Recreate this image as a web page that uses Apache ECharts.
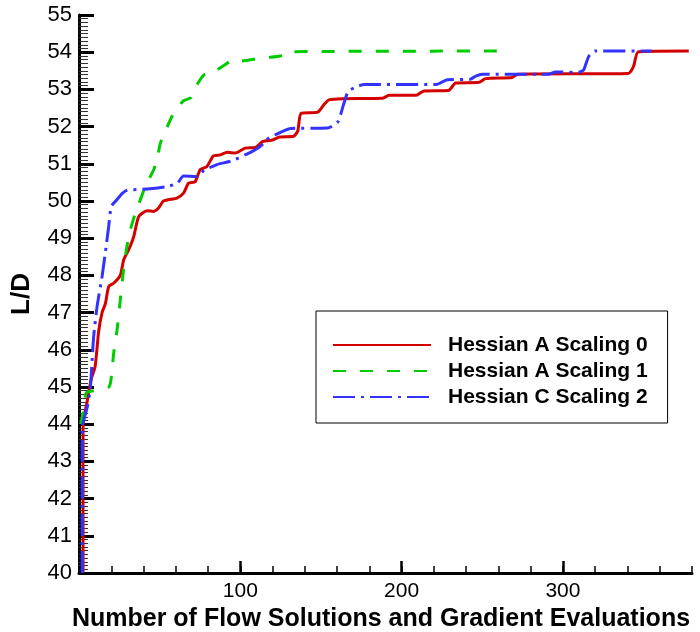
<!DOCTYPE html>
<html>
<head>
<meta charset="utf-8">
<script src="https://cdn.jsdelivr.net/npm/echarts@6/dist/echarts.min.js"></script>
<style>
  html, body { margin: 0; padding: 0; background: #fff; }
  #chart { width: 700px; height: 632px; }
</style>
</head>
<body>
<div id="chart"></div>
<script>
// Optimization history: L/D versus number of flow solutions + gradient evaluations
const seriesNames = ['Hessian A Scaling 0', 'Hessian A Scaling 1', 'Hessian C Scaling 2'];

const hessianAScaling0 = [
  [2.5, 40.0], [2.5, 44.0], [5, 44.6], [7.5, 45.2], [10, 45.55], [12.2, 46.5], [14.3, 47.0],
  [16.4, 47.25], [18.4, 47.7], [21.5, 47.79], [25.6, 48.0], [27.7, 48.42], [30.8, 48.69],
  [33.9, 49.04], [37, 49.58], [42.2, 49.74], [46.3, 49.72], [49.3, 49.81], [52.4, 50.0],
  [60.7, 50.08], [64.8, 50.21], [67.9, 50.48], [72, 50.52], [75.1, 50.84], [79.2, 50.92],
  [83.3, 51.21], [87.5, 51.24], [92, 51.31], [97, 51.29], [103, 51.42], [109.5, 51.44],
  [114, 51.6], [120, 51.64], [124.3, 51.72], [133, 51.74], [135.6, 51.88], [137.7, 52.36],
  [148, 52.39], [152, 52.6], [155, 52.72], [163.4, 52.75], [188, 52.76], [192.2, 52.84],
  [209, 52.84], [213.8, 52.96], [229, 52.97], [233.5, 53.17], [248, 53.19], [252, 53.29],
  [268.5, 53.32], [272, 53.41], [340.5, 53.43], [343.7, 53.61], [346.8, 54.01], [378, 54.03]
];

const hessianAScaling1 = [
  [1, 44.0], [2.5, 44.3], [4.4, 44.84], [9, 44.9], [18.6, 45.0], [20.5, 45.46], [21.5, 45.91],
  [23.6, 46.54], [25.6, 47.34], [27.6, 48.15], [29.7, 48.78], [31.8, 49.22], [34.9, 49.67],
  [38, 50.03], [41.1, 50.39], [46.3, 50.84], [48.3, 51.1], [50.4, 51.55], [53.4, 51.86],
  [57.6, 52.27], [61.7, 52.54], [65, 52.7], [69.5, 52.78], [72.5, 53.08], [77.5, 53.39],
  [82, 53.43], [85.4, 53.52], [90, 53.65], [95.7, 53.79], [100, 53.76], [112, 53.84],
  [118, 53.86], [127.5, 53.92], [130.6, 54.01], [260, 54.03]
];

const hessianCScaling2 = [
  [2, 40.0], [2, 43.9], [3.5, 44.2], [5.3, 44.5], [7.1, 45.0], [8.1, 45.7], [9.1, 46.36],
  [11.2, 47.16], [14.3, 47.97], [16.4, 48.64], [18.4, 49.31], [20, 49.85], [23.6, 50.04],
  [26.7, 50.2], [29.8, 50.29], [42.2, 50.32], [54.6, 50.39], [61, 50.48], [64.8, 50.67],
  [73.1, 50.66], [77.5, 50.82], [85.5, 50.98], [94, 51.07], [104, 51.26], [109, 51.37],
  [113.3, 51.5], [117.5, 51.69], [122.6, 51.8], [127.7, 51.9], [131, 51.95], [154, 51.96],
  [160.5, 52.13], [163.7, 52.55], [166.8, 52.94], [171.8, 53.07], [176.8, 53.13],
  [221.5, 53.13], [228.3, 53.26], [242.5, 53.27], [246, 53.36], [250, 53.41], [291, 53.41],
  [295.3, 53.47], [309.7, 53.46], [312.8, 53.52], [315.9, 53.88], [320, 54.03], [355, 54.03]
];

// Axis ranges and tick positions
const xRange = [0, 380];
const xMinorStep = 20;
const xMajorTicks = [100, 200, 300];
const yRange = [40, 55];
const yStep = 1;

const FONT = 'Liberation Sans, Arial, sans-serif';

const chart = echarts.init(document.getElementById('chart'), null, { renderer: 'canvas' });

const lineCommon = {
  type: 'line',
  showSymbol: false,
  symbol: 'none',
  smooth: 0.2,
  animation: false,
  emphasis: { disabled: true },
  xAxisIndex: 0,
  yAxisIndex: 0
};

chart.setOption({
  animation: false,
  backgroundColor: '#fff',
  grid: { left: 79, right: 8, top: 15, bottom: 59, containLabel: false, outerBoundsMode: 'none' },
  xAxis: [
    {
      type: 'value',
      min: xRange[0], max: xRange[1], interval: xMinorStep,
      name: 'Number of Flow Solutions and Gradient Evaluations',
      nameLocation: 'middle',
      nameGap: 34,
      nameTextStyle: { fontFamily: FONT, fontSize: 25, fontWeight: 'bold', color: '#000',
                       padding: [0, 9, 0, 0] },
      axisLine: { show: true, onZero: false, lineStyle: { color: '#000', width: 3 } },
      axisTick: { show: true, inside: true, length: 7, lineStyle: { color: '#000', width: 1.5 } },
      axisLabel: {
        show: true, margin: 8,
        customValues: xMajorTicks,
        fontFamily: FONT, fontSize: 21, color: '#000'
      },
      splitLine: { show: false }
    },
    {
      type: 'value',
      position: 'bottom',
      min: xRange[0], max: xRange[1],
      axisLine: { show: false },
      axisTick: { show: true, inside: true, length: 12, customValues: xMajorTicks,
                  lineStyle: { color: '#000', width: 2.5 } },
      axisLabel: { show: false },
      splitLine: { show: false }
    }
  ],
  yAxis: {
    type: 'value',
    min: yRange[0], max: yRange[1], interval: yStep,
    name: 'L/D',
    nameLocation: 'middle',
    nameGap: 44,
    nameRotate: 90,
    nameTextStyle: { fontFamily: FONT, fontSize: 26, fontWeight: 'bold', color: '#000' },
    axisLine: { show: true, onZero: false, lineStyle: { color: '#000', width: 3 } },
    axisTick: { show: true, inside: true, length: 15, lineStyle: { color: '#000', width: 3 } },
    minorTick: { show: true, splitNumber: 10, length: 9, lineStyle: { color: '#333', width: 1 } },
    axisLabel: { margin: 7, fontFamily: FONT, fontSize: 22, color: '#000' },
    splitLine: { show: false },
    minorSplitLine: { show: false }
  },
  legend: {
    orient: 'vertical',
    left: 316,
    top: 311,
    padding: [22, 20, 14, 16],
    borderColor: '#000',
    borderWidth: 1,
    itemWidth: 98,
    itemHeight: 24,
    itemGap: 2,
    itemStyle: { opacity: 0 },
    textStyle: { fontFamily: FONT, fontSize: 21, fontWeight: 'bold', color: '#000',
                 lineHeight: 24, padding: [0, 0, 0, 12] },
    data: seriesNames
  },
  series: [
    Object.assign({}, lineCommon, {
      name: seriesNames[0],
      data: hessianAScaling0,
      z: 3,
      lineStyle: { color: '#d40000', width: 3, type: 'solid' },
      itemStyle: { color: '#d40000' }
    }),
    Object.assign({}, lineCommon, {
      name: seriesNames[1],
      data: hessianAScaling1,
      z: 4,
      lineStyle: { color: '#00cc00', width: 3, type: [13, 14] },
      itemStyle: { color: '#00cc00' }
    }),
    Object.assign({}, lineCommon, {
      name: seriesNames[2],
      data: hessianCScaling2,
      z: 5,
      lineStyle: { color: '#3333ff', width: 3, type: [22, 6, 3, 6] },
      itemStyle: { color: '#3333ff' }
    })
  ]
});
</script>
</body>
</html>
